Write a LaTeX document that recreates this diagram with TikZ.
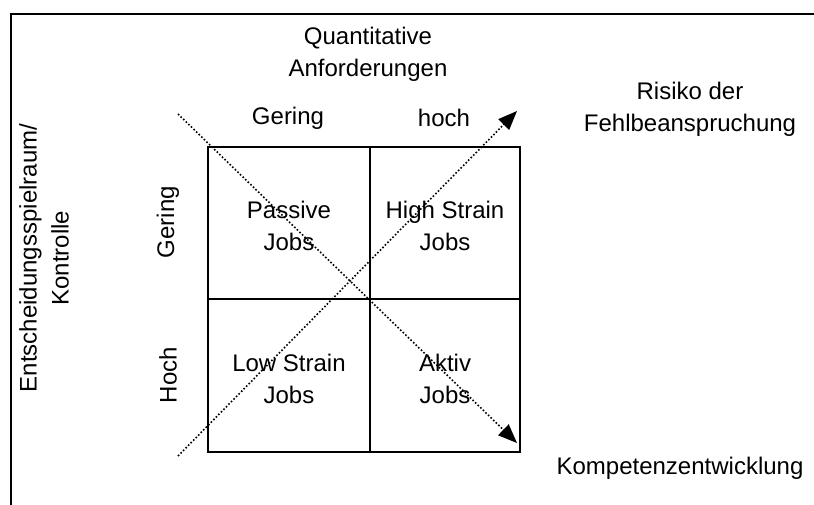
\documentclass[tikz,border=0pt]{standalone}
\usepackage{fontspec}
\setmainfont{Liberation Sans}
\usetikzlibrary{arrows.meta}
\begin{document}
\begin{tikzpicture}[x=1pt,y=-1pt,
  every node/.style={font=\fontsize{24}{32}\selectfont, inner sep=0pt, align=center},
  cell/.style={draw, line width=2pt, anchor=north west},
  diag/.style={dotted, line width=1.6pt, -{Triangle[length=19pt,width=15pt]}}]
  \useasboundingbox (0,0) rectangle (814,504);
  % outer frame (runs past the right and bottom edges)
  \draw[line width=2pt] (11,14) rectangle (830,520);

  % the 2x2 matrix
  \node[cell, minimum width=162pt, minimum height=152pt] (pj) at (207,146) {};
  \node[cell, minimum width=150pt, minimum height=152pt] (hs) at (369,146) {};
  \node[cell, minimum width=162pt, minimum height=153pt] (ls) at (207,298) {};
  \node[cell, minimum width=150pt, minimum height=153pt] (aj) at (369,298) {};

  \node (tpj) at ([yshift=-3pt]pj.center) {Passive\\Jobs};
  \node (ths) at ([yshift=-3pt]hs.center) {High Strain\\Jobs};
  \node (tls) at ([yshift=-3pt]ls.center) {Low Strain\\Jobs};
  \node (taj) at ([yshift=-3pt]aj.center) {Aktiv\\Jobs};

  % axis headings
  \node (qa) at (368,54) {Quantitative\\Anforderungen};
  \node (ger1) at (288,118) {Gering};
  \node (hoch1) at (444,118) {hoch};
  \node[rotate=90] (ger2) at (168,222) {Gering};
  \node[rotate=90] (hoch2) at (168,375) {Hoch};
  \node[rotate=90] (ek) at (44,258) {Entscheidungsspielraum/\\Kontrolle};
  \node (risk) at (690,109) {Risiko der\\Fehlbeanspruchung};
  \node (komp) at (680,468) {Kompetenzentwicklung};

  % dotted diagonals
  \coordinate (d1s) at (178,114);
  \coordinate (d1e) at (517,443);
  \coordinate (d2s) at (178,456);
  \coordinate (d2e) at (517,111);
  \draw[diag] (d1s) -- (d1e);
  \draw[diag] (d2s) -- (d2e);
\end{tikzpicture}
\end{document}
